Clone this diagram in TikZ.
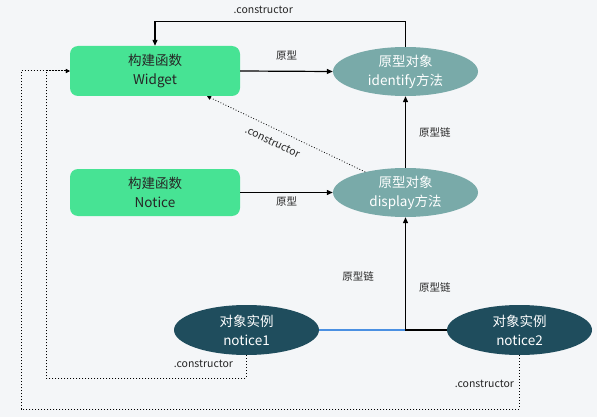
\documentclass[tikz,border=0pt]{standalone}
\usepackage{fontspec}
\setmainfont{Noto Sans CJK SC}
\usetikzlibrary{shapes.geometric,arrows.meta}
\definecolor{bgcol}{HTML}{F4F6F8}
\definecolor{fngreen}{HTML}{47E394}
\definecolor{prototeal}{HTML}{79AAA9}
\definecolor{instdark}{HTML}{1F4D5D}
\definecolor{linkblue}{HTML}{4A90E2}
\begin{document}
\begin{tikzpicture}[x=1pt,y=-1pt,
  fnbox/.style={rectangle,rounded corners=8pt,fill=fngreen,minimum width=170pt,minimum height=50pt,align=center,text=black!85,font=\fontsize{13.5}{19}\selectfont},
  protoell/.style={ellipse,fill=prototeal,minimum width=145pt,minimum height=49pt,inner sep=0pt,align=center,text=white,font=\fontsize{13.5}{19}\selectfont},
  instell/.style={protoell,fill=instdark,minimum height=50pt},
  lbl/.style={font=\fontsize{10.5}{12}\selectfont,text=black!85,inner sep=1pt},
  link/.style={line width=1.2pt,-{Triangle[length=6pt,width=5pt]}},
  ctor/.style={dotted,line width=1pt,-{Triangle[length=4pt,width=4pt]}}]
\fill [bgcol] (0,0) rectangle (597,417);
% constructors and prototypes
\node[fnbox] (widget) at (155,71) {构建函数\\Widget};
\node[fnbox,minimum height=47pt] (notice) at (155,192.5) {构建函数\\Notice};
\node[protoell] (identify) at (405.5,71.5) {原型对象\\identify方法};
\node[protoell] (display) at (405.5,192.5) {原型对象\\display方法};
% instances
\node[instell] (notice1) at (246.5,330) {对象实例\\notice1};
\node[instell] (notice2) at (519.5,330) {对象实例\\notice2};
\coordinate (join) at (display.south |- notice1.east);
\coordinate (dl1) at (46,378);
\coordinate (dl2) at (21,409);
% links
\draw[link] (widget.east) -- node[lbl,midway,above=9pt] {原型} (identify.west);
\draw[link] (notice.east) -- node[lbl,midway,below=3pt] {原型} (display.west);
\draw[link] (display.north) -- node[lbl,midway,right=12pt] {原型链} (identify.south);
\draw[link] (identify.north) -- ++(0,-25) -| node[lbl,pos=0.284,above=7pt] {.constructor} (widget.north);
\draw[ctor,line width=0.8pt] (display.153) -- node[lbl,pos=0.55,sloped,below=8pt] {.constructor} ([xshift=52pt]widget.south);
\draw[linkblue,line width=1.2pt] (notice1.east) -- (join);
\draw[link] (notice2.west) -- (join) -- node[lbl,pos=0.47,left=30pt] {原型链} node[lbl,pos=0.38,right=12pt] {原型链} (display.south);
\draw[ctor] (notice1.south) |- node[lbl,pos=0.2,left=12pt] {.constructor} (dl1) |- (widget.west);
\draw[ctor] (notice2.south) |- node[lbl,pos=0.27,left=4pt] {.constructor} (dl2) |- (widget.west);
\end{tikzpicture}
\end{document}
